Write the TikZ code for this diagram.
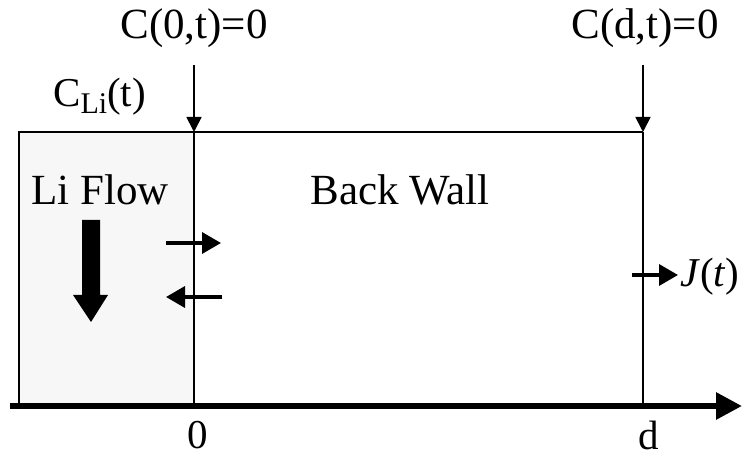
\documentclass[tikz,border=0pt]{standalone}
\usepackage{fontspec}
\setmainfont{Liberation Serif}
\usetikzlibrary{arrows.meta}
\begin{document}
\begin{tikzpicture}[x=1pt,y=1pt,
  thinline/.style={line width=1.8pt},
  lbl/.style={inner sep=0pt,anchor=base,font=\fontsize{43}{50}\selectfont},
  biglbl/.style={inner sep=0pt,anchor=base,font=\fontsize{43}{50}\selectfont},
  smallarrow/.style={line width=3.5pt,-{Triangle[length=19pt,width=21pt]}},
  toparrow/.style={line width=1.8pt,-{Triangle[length=15pt,width=15pt]}}]
\useasboundingbox (0,0) rectangle (742,460);
% coordinates
\coordinate (TL) at (19,328);
\coordinate (BL) at (19,54);
\coordinate (T0) at (194,328);
\coordinate (B0) at (194,54);
\coordinate (Td) at (643,328);
\coordinate (Bd) at (643,54);
\coordinate (AxS) at (10,54);
\coordinate (AxE) at (742,54);
% shaded Li region
\fill[black!3] (BL) rectangle (T0);
% box lines
\draw[thinline] (BL) -- (TL) -- (Td);
\draw[thinline] (T0) -- (B0);
\draw[thinline] (Td) -- (Bd);
% axis
\draw[line width=6pt,-{Triangle[length=26pt,width=26pt]}] (AxS) -- (AxE);
% top labels and arrows
\node[lbl] (c0) at (194,421) {C(0,t)=0};
\node[lbl] (cd) at (645,421) {C(d,t)=0};
\coordinate (a0) at (194,395);
\coordinate (ad) at (643,395);
\draw[toparrow] (a0) -- (T0);
\draw[toparrow] (ad) -- (Td);
\node[lbl,anchor=base west,font=\fontsize{41}{48}\selectfont] (cli) at (53,353) {C\raisebox{-7pt}{\fontsize{30}{34}\selectfont Li}(t)};
% region labels
\node[biglbl] (li) at (100,255) {Li Flow};
\node[biglbl] (bw) at (400,255) {Back Wall};
% thick down arrow
\fill (82,240) -- (100,240) -- (100,165) -- (108,165) -- (91,138) -- (73,165) -- (82,165) -- cycle;
% exchange arrows
\coordinate (r1) at (166,217);
\coordinate (r2) at (221,217);
\coordinate (l1) at (222,163);
\coordinate (l2) at (166,163);
\draw[smallarrow] (r1) -- (r2);
\draw[smallarrow] (l1) -- (l2);
% flux arrow
\coordinate (j1) at (632,185);
\coordinate (j2) at (678,185);
\node[lbl,anchor=base west,font=\fontsize{41}{48}\selectfont] (J) at (680,173) {\textit{J}(\textit{t})};
\draw[smallarrow] (j1) -- (j2);
% axis labels
\node[lbl,font=\fontsize{41}{48}\selectfont] (z) at (198,11) {0};
\node[lbl,font=\fontsize{41}{48}\selectfont] (d) at (649,10) {d};
\end{tikzpicture}
\end{document}
